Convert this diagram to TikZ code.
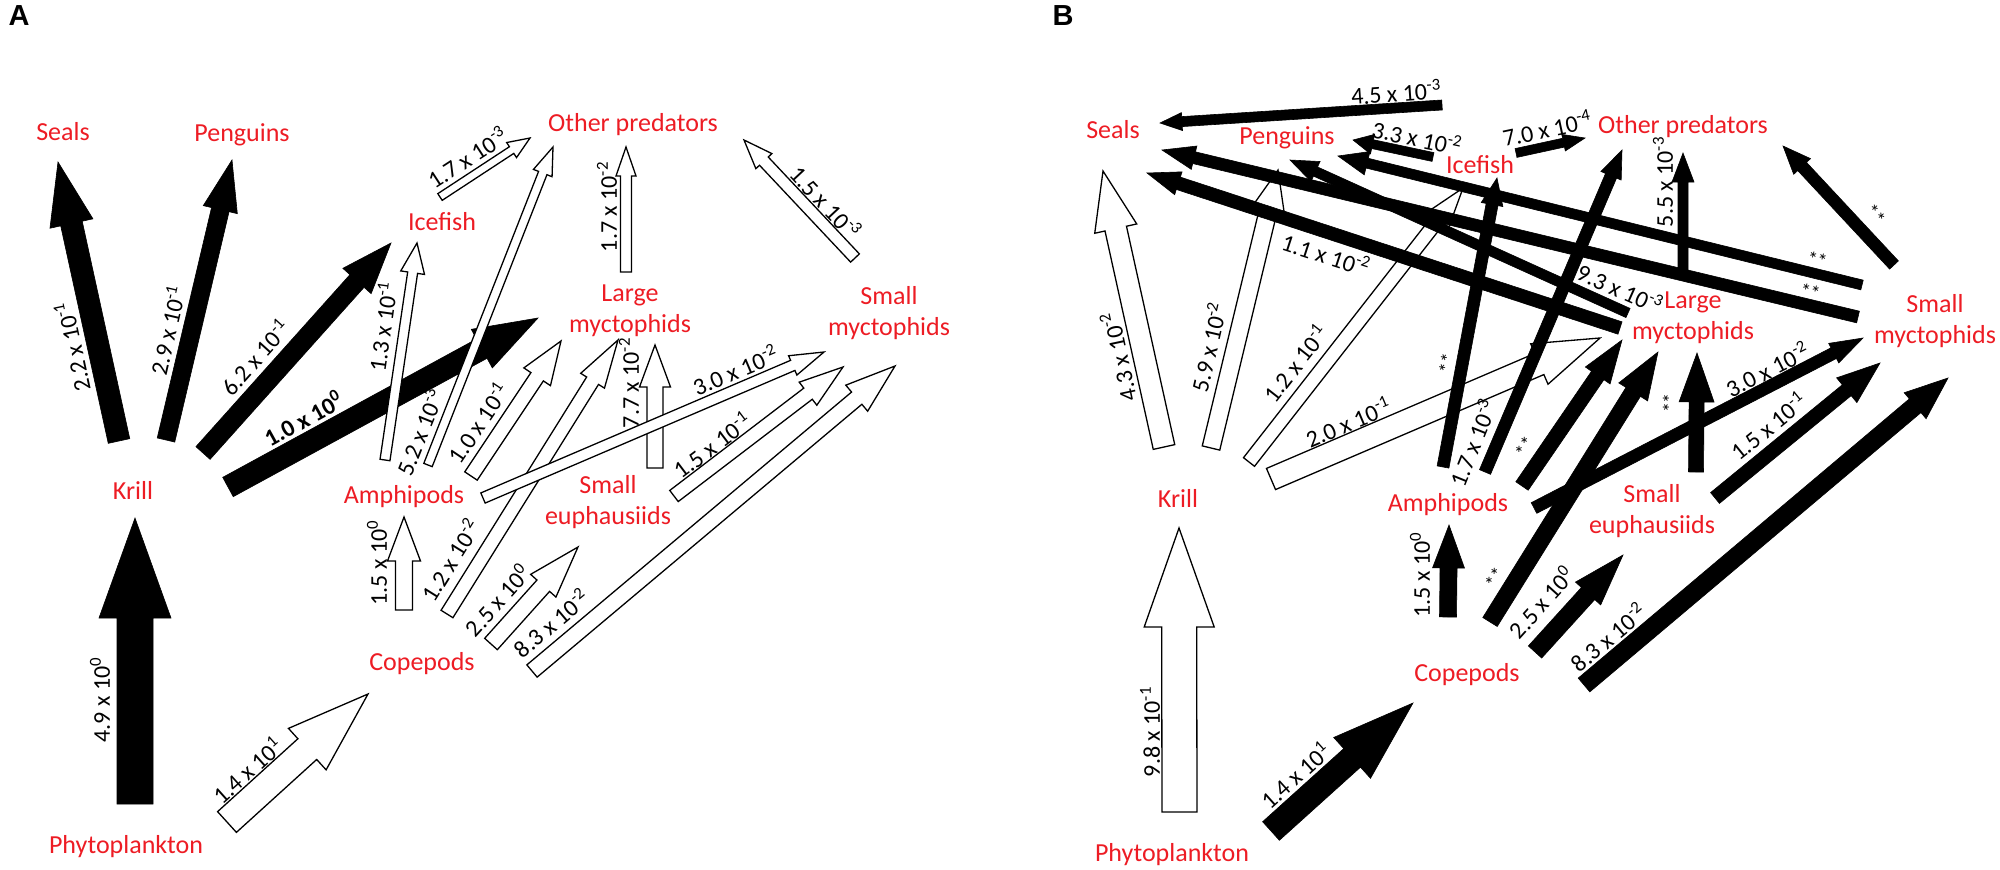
\documentclass[tikz,border=0pt]{standalone}
\usepackage{fontspec}
\setmainfont{Carlito}
\newfontfamily\panelfont{Liberation Sans}
\usetikzlibrary{calc}
\definecolor{spred}{RGB}{237,28,36}

\tikzset{
  sp/.style={text=spred, font=\fontsize{26}{31}\selectfont, align=center, inner sep=0pt},
  val/.style={font=\fontsize{24}{28}\selectfont, inner sep=0pt},
  stars/.style={font=\fontsize{20}{20}\selectfont, inner sep=0pt},
  panel/.style={font=\panelfont\bfseries\fontsize{29}{30}\selectfont, inner sep=0pt},
  dark/.style={fill=black, draw=black, line width=0.6pt, line join=miter},
  pale/.style={fill=white, draw=black, line width=1.3pt, line join=miter},
}

\newcommand{\tenp}[1]{10\textsuperscript{#1}}
% block arrow: style, from node, offset, to node, offset, half shaft, half head, head length
\newcommand{\flux}[8]{%
  \coordinate (fa) at ($(#2)+(#3)$);
  \coordinate (fb) at ($(#4)+(#5)$);
  \coordinate (fc) at ($(fb)!#8pt!(fa)$);
  \draw[#1] ($(fa)!#6pt!90:(fb)$) -- ($(fc)!#6pt!-90:(fa)$) -- ($(fc)!#7pt!-90:(fa)$) -- (fb)
    -- ($(fc)!#7pt!90:(fa)$) -- ($(fc)!#6pt!90:(fa)$) -- ($(fa)!#6pt!-90:(fb)$) -- cycle;
}

\begin{document}
\begin{tikzpicture}[x=1pt, y=-1pt]
  \useasboundingbox (0,0) rectangle (2000,870);

  % panel A
  \node[panel] (tagA) at (19,16) {A};
  \node[sp] (sealsA) at (63,132) {Seals};
  \node[sp] (pengA) at (242,135) {Penguins};
  \node[sp] (iceA) at (442,222) {Icefish};
  \node[sp] (otherA) at (633,125) {Other predators};
  \node[sp] (largeA) at (630,311) {Large\\myctophids};
  \node[sp] (smallmA) at (889,313) {Small\\myctophids};
  \node[sp] (krillA) at (133,490) {Krill};
  \node[sp] (amphA) at (404,497) {Amphipods};
  \node[sp] (euphA) at (608,502) {Small\\euphausiids};
  \node[sp] (copeA) at (422,664) {Copepods};
  \node[sp] (phytoA) at (126,847) {Phytoplankton};

  \flux{dark}{krillA}{-14,-49}{sealsA}{-5,30}{11}{22}{63}
  \flux{dark}{krillA}{33,-50}{pengA}{-10,25}{9}{17.5}{51}
  \flux{dark}{krillA}{70,-37}{iceA}{-51,21}{9.5}{19}{51}
  \flux{dark}{krillA}{95,-3}{largeA}{-92,7}{11}{22}{64}
  \flux{dark}{phytoA}{9,-43}{krillA}{2,28}{18}{36}{100}

  \flux{pale}{phytoA}{101,-25}{copeA}{-54,30}{14}{28}{82}
  \flux{pale}{copeA}{-18,-54}{amphA}{0,20}{8.5}{16.5}{44}
  \flux{pale}{amphA}{-19,-37}{iceA}{-25,21}{5}{12}{30}
  \flux{pale}{amphA}{24,-32}{otherA}{-80,22}{4.5}{10}{28}
  \flux{pale}{iceA}{-2,-25}{otherA}{-103,13}{4}{9}{22}
  \flux{pale}{largeA}{-4,-39}{otherA}{-7,22}{5.5}{10}{29}
  \flux{pale}{smallmA}{-34,-55}{otherA}{111,15}{6}{11}{29}
  \flux{pale}{amphA}{67,-21}{largeA}{-69,30}{7.5}{16}{43}
  \flux{pale}{copeA}{25,-50}{largeA}{-12,29}{7}{14}{48}
  \flux{pale}{euphA}{47,-34}{largeA}{25,34}{8}{15.5}{42}
  \flux{pale}{amphA}{79,1}{smallmA}{-65,39}{5.5}{10.5}{34}
  \flux{pale}{euphA}{66,-6}{smallmA}{-46,54}{7}{14.5}{44}
  \flux{pale}{copeA}{110,7}{smallmA}{6,53}{8}{17}{50}
  \flux{pale}{copeA}{69,-20}{euphA}{-30,45}{8.5}{17}{52}

  \node[val, rotate=102] (lA1) at (72,347) {2.2 x \tenp{-1}};
  \node[val, rotate=77] (lA2) at (167,330) {2.9 x \tenp{-1}};
  \node[val, rotate=48] (lA3) at (255,357) {6.2 x \tenp{-1}};
  \node[val, rotate=29, font=\fontsize{24}{28}\selectfont\bfseries] (lA4) at (303,418) {1.0 x \tenp{0}};
  \node[val, rotate=90] (lA5) at (100,700) {4.9 x \tenp{0}};
  \node[val, rotate=42] (lA6) at (247,770) {1.4 x \tenp{1}};
  \node[val, rotate=90] (lA7) at (377,563) {1.5 x \tenp{0}};
  \node[val, rotate=82] (lA8) at (382,327) {1.3 x \tenp{-1}};
  \node[val, rotate=68] (lA9) at (419,432) {5.2 x \tenp{-3}};
  \node[val, rotate=33] (lA10) at (467,157) {1.7 x \tenp{-3}};
  \node[val, rotate=90] (lA11) at (607,207) {1.7 x \tenp{-2}};
  \node[val, rotate=-47] (lA12) at (826,202) {1.5 x \tenp{-3}};
  \node[val, rotate=56] (lA13) at (478,423) {1.0 x \tenp{-1}};
  \node[val, rotate=58] (lA14) at (450,560) {1.2 x \tenp{-2}};
  \node[val, rotate=90] (lA15) at (629,383) {7.7 x \tenp{-2}};
  \node[val, rotate=23] (lA16) at (735,370) {3.0 x \tenp{-2}};
  \node[val, rotate=37] (lA17) at (712,445) {1.5 x \tenp{-1}};
  \node[val, rotate=40] (lA18) at (551,623) {8.3 x \tenp{-2}};
  \node[val, rotate=48] (lA19) at (497,600) {2.5 x \tenp{0}};

  % panel B
  \node[panel] (tagB) at (1063,16) {B};
  \node[sp] (sealsB) at (1113,130) {Seals};
  \node[sp] (pengB) at (1287,138) {Penguins};
  \node[sp] (iceB) at (1480,165) {Icefish};
  \node[sp] (otherB) at (1683,127) {Other predators};
  \node[sp] (largeB) at (1693,318) {Large\\myctophids};
  \node[sp] (smallmB) at (1935,321) {Small\\myctophids};
  \node[sp] (krillB) at (1178,498) {Krill};
  \node[sp] (amphB) at (1448,505) {Amphipods};
  \node[sp] (euphB) at (1652,511) {Small\\euphausiids};
  \node[sp] (copeB) at (1467,675) {Copepods};
  \node[sp] (phytoB) at (1172,855) {Phytoplankton};

  \flux{pale}{krillB}{-14,-51}{sealsB}{-10,41}{11}{21.5}{59}
  \flux{pale}{krillB}{33,-50}{pengB}{-9,32}{9}{16}{40}
  \flux{pale}{krillB}{71,-36}{iceB}{-17,23}{7}{13}{40}
  \flux{pale}{krillB}{93,-19}{largeB}{-93,20}{11.5}{22}{66}
  \flux{pale}{phytoB}{7.5,-43}{krillB}{1,30}{17.5}{35}{99}

  \flux{dark}{phytoB}{99,-24}{copeB}{-54,28}{12.5}{27.5}{82}
  \flux{dark}{copeB}{-19,-58}{amphB}{1,20}{8.5}{16}{43}
  \flux{dark}{amphB}{-5,-38}{iceB}{17,13}{6}{11}{27}
  \flux{dark}{amphB}{37,-33}{otherB}{-61,23}{6}{11}{28}
  \flux{dark}{iceB}{36,-12}{otherB}{-98,11}{4.5}{8.5}{22}
  \flux{dark}{largeB}{-10,-46}{otherB}{0,26}{5}{11}{29}
  \flux{dark}{smallmB}{-41,-56}{otherB}{100,19}{6}{11.5}{28}
  \flux{dark}{amphB}{74,-19}{largeB}{-71,22}{7.5}{15}{43}
  \flux{dark}{copeB}{23,-53}{largeB}{-35,34}{8.5}{17}{47}
  \flux{dark}{euphB}{44,-39}{largeB}{4,35}{7.5}{17.5}{49}
  \flux{dark}{amphB}{86,3}{smallmB}{-72,17}{6}{11}{33}
  \flux{dark}{euphB}{63,-13}{smallmB}{-55,42}{7}{16}{43}
  \flux{dark}{copeB}{117,10}{smallmB}{13,57}{9}{17}{43}
  \flux{dark}{copeB}{68,-23}{euphB}{-29,44}{9}{17}{52}
  \flux{dark}{iceB}{-47,-8}{pengB}{66,2}{4.5}{10}{20}
  \flux{dark}{iceB}{-38,-60}{sealsB}{47,-7}{5}{9}{22}
  \flux{dark}{smallmB}{-73,-36}{pengB}{51,18}{5}{12}{30}
  \flux{dark}{smallmB}{-77,-4}{sealsB}{49,20}{6}{12}{33}
  \flux{dark}{largeB}{-65,-5}{pengB}{3,22}{5}{11}{28}
  \flux{dark}{largeB}{-73,10}{sealsB}{34,43}{6.5}{12}{33}

  \node[val, rotate=102] (lB1) at (1118,357) {4.3 x \tenp{-2}};
  \node[val, rotate=77] (lB2) at (1208,347) {5.9 x \tenp{-2}};
  \node[val, rotate=52] (lB3) at (1295,363) {1.2 x \tenp{-1}};
  \node[val, rotate=23] (lB4) at (1348,422) {2.0 x \tenp{-1}};
  \node[val, rotate=90] (lB5) at (1150,732) {9.8 x \tenp{-1}};
  \node[val, rotate=42] (lB6) at (1295,775) {1.4 x \tenp{1}};
  \node[val, rotate=90] (lB7) at (1420,575) {1.5 x \tenp{0}};
  \node[val, rotate=68] (lB9) at (1472,443) {1.7 x \tenp{-3}};
  \node[val, rotate=12] (lB10) at (1547,128) {7.0 x \tenp{-4}};
  \node[val, rotate=90] (lB11) at (1663,182) {5.5 x \tenp{-3}};
  \node[val, rotate=27] (lB16) at (1767,369) {3.0 x \tenp{-2}};
  \node[val, rotate=39] (lB17) at (1768,426) {1.5 x \tenp{-1}};
  \node[val, rotate=40] (lB18) at (1608,637) {8.3 x \tenp{-2}};
  \node[val, rotate=48] (lB19) at (1541,602) {2.5 x \tenp{0}};
  \node[val, rotate=-12] (lB20) at (1417,137) {3.3 x \tenp{-2}};
  \node[val, rotate=4] (lB21) at (1396,92) {4.5 x \tenp{-3}};
  \node[val, rotate=-24] (lB24) at (1620,288) {9.3 x \tenp{-3}};
  \node[val, rotate=-18] (lB25) at (1326,254) {1.1 x \tenp{-2}};

  \node[stars, rotate=80] (sB8) at (1447,363) {**};
  \node[stars, rotate=-50] (sB12) at (1875,215) {**};
  \node[stars, rotate=58] (sB13) at (1525,447) {**};
  \node[stars, rotate=58] (sB14) at (1495,578) {**};
  \node[stars, rotate=90] (sB15) at (1670,403) {**};
  \node[stars, rotate=-15] (sB22) at (1817,260) {**};
  \node[stars, rotate=-15] (sB23) at (1810,292) {**};
\end{tikzpicture}
\end{document}
